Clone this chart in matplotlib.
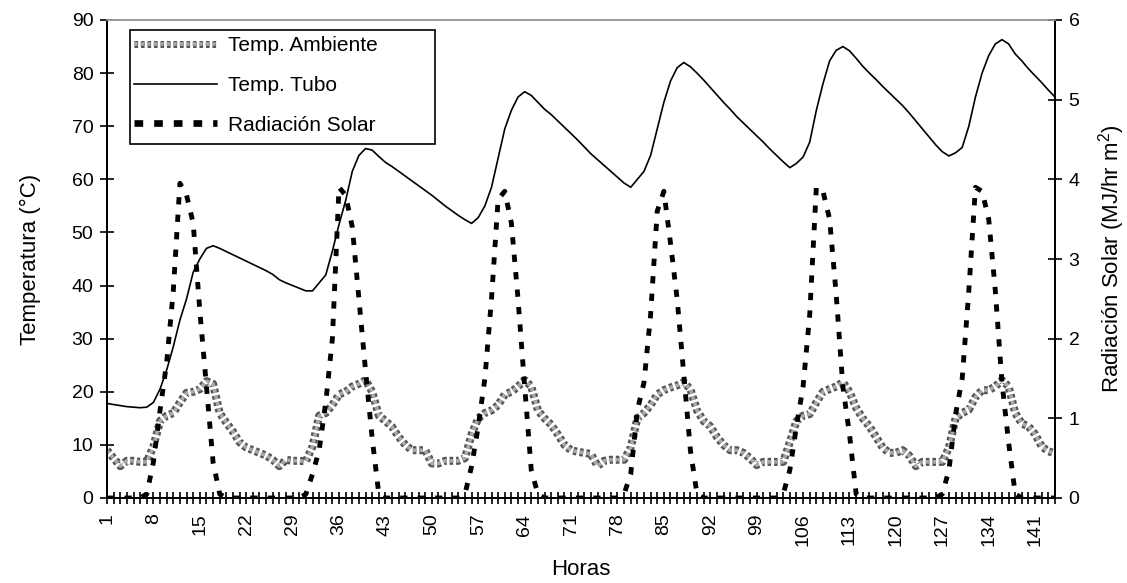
import numpy as np
import matplotlib
matplotlib.use("Agg")
import matplotlib.pyplot as plt
from matplotlib.lines import Line2D
from matplotlib.patches import Rectangle
import matplotlib.patheffects as pe

plt.rcParams['font.family'] = ['Liberation Sans', 'DejaVu Sans']
plt.rcParams['mathtext.fontset'] = 'custom'
plt.rcParams['mathtext.rm'] = 'Liberation Sans'

# Hourly series, hours 1..144
horas = list(range(1, 145))

temp_ambiente = [
    9.0, 7.5, 6.0, 7.0, 7.0, 6.8, 6.8, 9.7, 14.5, 15.5, 16.0, 18.0,
    19.8, 20.0, 20.5, 22.0, 21.5, 16.0, 14.2, 12.5, 10.5, 9.5, 9.0, 8.5,
    8.0, 7.2, 6.0, 7.2, 7.0, 7.0, 6.9, 9.7, 15.5, 16.0, 17.5, 19.5,
    20.0, 21.0, 21.5, 22.2, 20.0, 15.5, 14.5, 13.4, 11.5, 10.0, 9.0, 9.0,
    9.0, 6.5, 6.5, 7.0, 7.0, 7.0, 7.5, 12.0, 15.0, 16.0, 16.5, 17.5,
    19.5, 20.0, 21.0, 22.2, 21.0, 16.5, 15.0, 13.8, 12.0, 10.0, 9.0, 8.7,
    8.5, 8.3, 6.0, 7.0, 7.2, 7.2, 7.2, 9.5, 15.0, 16.0, 17.5, 19.5,
    20.3, 20.8, 21.2, 21.8, 20.5, 16.5, 14.5, 13.5, 11.5, 10.0, 9.0, 9.0,
    8.5, 7.5, 6.2, 6.8, 6.8, 6.8, 6.8, 10.5, 14.5, 15.5, 15.8, 18.0,
    20.0, 20.5, 21.0, 21.8, 20.0, 17.0, 15.0, 13.5, 11.5, 9.5, 8.5, 8.5,
    9.0, 8.0, 6.0, 6.8, 6.8, 6.8, 6.8, 9.5, 15.0, 16.0, 16.6, 19.0,
    20.3, 20.3, 21.0, 22.2, 21.0, 16.0, 14.0, 13.5, 12.0, 9.7, 8.8, 8.4,
]

temp_tubo = [
    17.8, 17.6, 17.4, 17.2, 17.1, 17.0, 17.1, 18.0, 20.5, 24.1, 28.5, 33.5,
    37.5, 42.5, 45.0, 47.0, 47.5, 47.0, 46.4, 45.8, 45.2, 44.6, 44.0, 43.4,
    42.8, 42.1, 41.1, 40.5, 40.0, 39.5, 39.0, 39.0, 40.5, 42.0, 46.5, 51.5,
    56.0, 61.5, 64.5, 65.8, 65.5, 64.3, 63.2, 62.4, 61.5, 60.6, 59.7, 58.8,
    57.9, 57.0, 56.0, 55.0, 54.1, 53.2, 52.4, 51.7, 52.8, 55.0, 58.5, 64.0,
    69.5, 73.0, 75.5, 76.5, 75.8, 74.5, 73.2, 72.2, 71.0, 69.8, 68.6, 67.4,
    66.1, 64.8, 63.7, 62.6, 61.5, 60.4, 59.3, 58.5, 60.0, 61.5, 64.5, 69.5,
    74.5, 78.5, 81.0, 82.0, 81.2, 80.0, 78.7, 77.3, 75.9, 74.5, 73.2, 71.8,
    70.6, 69.4, 68.2, 67.0, 65.7, 64.5, 63.3, 62.2, 63.0, 64.2, 67.0, 73.0,
    78.0, 82.3, 84.3, 85.0, 84.2, 82.8, 81.3, 80.0, 78.8, 77.5, 76.3, 75.1,
    73.9, 72.5, 71.0, 69.5, 68.0, 66.5, 65.2, 64.4, 65.0, 66.0, 70.0, 75.5,
    80.0, 83.3, 85.5, 86.3, 85.5, 83.6, 82.3, 80.8, 79.5, 78.2, 76.8, 75.5,
]

radiacion = [
    0, 0, 0, 0, 0, 0, 0.05, 0.45, 1.1, 1.7, 2.6, 3.95,
    3.8, 3.45, 2.35, 1.4, 0.45, 0.05, 0, 0, 0, 0, 0, 0,
    0, 0, 0, 0, 0, 0, 0.05, 0.3, 0.6, 1.2, 2.0, 3.9,
    3.8, 3.4, 2.5, 1.6, 0.75, 0.05, 0, 0, 0, 0, 0, 0,
    0, 0, 0, 0, 0, 0, 0.05, 0.4, 0.9, 1.5, 2.5, 3.75,
    3.85, 3.45, 2.5, 1.4, 0.35, 0.05, 0, 0, 0, 0, 0, 0,
    0, 0, 0, 0, 0, 0, 0.05, 0.3, 1.1, 1.45, 2.3, 3.6,
    3.85, 3.2, 2.5, 1.56, 0.6, 0.05, 0, 0, 0, 0, 0, 0,
    0, 0, 0, 0, 0, 0, 0.05, 0.35, 0.9, 1.4, 2.3, 3.9,
    3.85, 3.5, 2.55, 1.4, 0.8, 0.05, 0, 0, 0, 0, 0, 0,
    0, 0, 0, 0, 0, 0, 0.05, 0.35, 1.05, 1.5, 2.6, 3.9,
    3.85, 3.5, 2.6, 1.45, 0.7, 0.05, 0, 0, 0, 0, 0, 0,
]

xtick_labels = [1, 8, 15, 22, 29, 36, 43, 50, 57, 64, 71, 78, 85, 92, 99,
                106, 113, 120, 127, 134, 141]
temp_ticks = [0, 10, 20, 30, 40, 50, 60, 70, 80, 90]
rad_ticks = [0, 1, 2, 3, 4, 5, 6]

W, H = 1127, 583
fig = plt.figure(figsize=(W / 100, H / 100), dpi=100)
ax = fig.add_axes([107 / W, 1 - 498 / H, 948 / W, 478 / H])
ax2 = ax.twinx()

# Textured gray band for ambient temperature
amb_style = dict(color='#a9a9a9', lw=2.6, linestyle=(0, (1, 0.8)),
                 solid_capstyle='butt')
amb_effects = [pe.Stroke(linewidth=5.8, foreground='#555555'), pe.Normal()]
ax.plot(horas, temp_ambiente, path_effects=amb_effects, zorder=3, **amb_style)
l_tubo, = ax.plot(horas, temp_tubo, color='black', lw=1.2, zorder=4)
ax2.plot(horas, radiacion, color='black', lw=3.5,
         linestyle=(0, (1.5, 2.1)), dash_capstyle='butt', zorder=5)

ax.set_xlim(1, 144)
ax.set_ylim(0, 90)
ax2.set_ylim(0, 6)

ax.set_xticks(horas)
ax.set_xticklabels([str(h) if h in xtick_labels else '' for h in horas],
                   rotation=90)
ax.set_yticks(temp_ticks)
ax2.set_yticks(rad_ticks)

ax.tick_params(axis='x', direction='inout', length=8.5, width=1.2,
               labelsize=14, pad=7)
ax.tick_params(axis='y', direction='inout', length=9.5, width=1.2,
               labelsize=14, pad=5)
ax2.tick_params(axis='y', direction='inout', length=9.5, width=1.2,
                labelsize=14, pad=5)

for a in (ax, ax2):
    a.spines['top'].set_color('#9a9a9a')
    a.spines['top'].set_linewidth(1.2)
    a.spines['left'].set_linewidth(1.4)
    a.spines['right'].set_linewidth(1.4)
    a.spines['bottom'].set_linewidth(1.4)

ax.set_xlabel('Horas', fontsize=16, labelpad=9)
ax.set_ylabel('Temperatura (°C)', fontsize=16, labelpad=22)
ax2.set_ylabel('Radiación Solar (MJ/hr m$^{2}$)', fontsize=16, labelpad=12)

# Legend: handles without frame, boxed by a separate rectangle
h_amb = Line2D([], [], path_effects=[pe.Stroke(linewidth=5.0, foreground='#555555'),
                                     pe.Normal()], **amb_style)
h_rad = Line2D([], [], color='black', lw=4.8, linestyle=(0, (1.3, 1.65)),
               dash_capstyle='butt')
leg = fig.legend([h_amb, l_tubo, h_rad],
                 ['Temp. Ambiente', 'Temp. Tubo', 'Radiación Solar'],
                 loc='upper left', bbox_to_anchor=(134 / W, 1 - 36 / H),
                 fontsize=15, frameon=False, handlelength=4.0,
                 handletextpad=0.5, borderpad=0, labelspacing=1.0,
                 borderaxespad=0)
leg.set_zorder(10)
fig.patches.append(Rectangle((130 / W, 1 - 144 / H), 305 / W, 114 / H,
                             transform=fig.transFigure, facecolor='white',
                             edgecolor='black', lw=1.2, zorder=9))

fig.savefig('out.png', dpi=100)
